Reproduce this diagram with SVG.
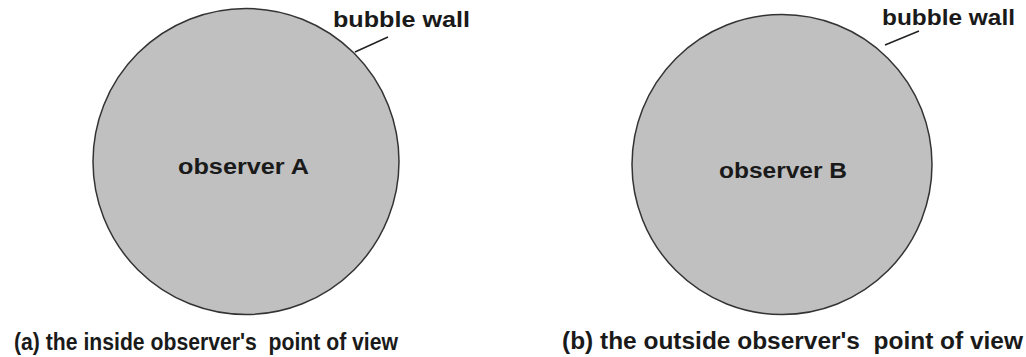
<svg xmlns="http://www.w3.org/2000/svg" width="1026" height="357" viewBox="0 0 1026 357">
<style>
.bubble{fill:#c0c0c0;stroke:#333;stroke-width:1.5}
.t{font-family:"Liberation Sans",Arial,sans-serif;font-weight:bold;fill:#1a1a1a}
.lbl{font-size:22px}
.cap{font-size:23px}
.ptr{stroke:#222;stroke-width:1.5;fill:none}
</style>
<rect width="1026" height="357" fill="#fff"/>
<g id="bubbleA">
<circle class="bubble" cx="246" cy="161.5" r="153"/>
<text class="t lbl" x="178" y="174" textLength="131" lengthAdjust="spacingAndGlyphs">observer A</text>
</g>
<g id="bubbleB">
<circle class="bubble" cx="782" cy="164.5" r="150"/>
<text class="t lbl" x="719" y="178" textLength="128" lengthAdjust="spacingAndGlyphs">observer B</text>
</g>
<g id="wallA">
<text class="t lbl" x="333" y="27" textLength="137" lengthAdjust="spacingAndGlyphs">bubble wall</text>
</g>
<g id="wallB">
<text class="t lbl" x="882" y="25" textLength="133" lengthAdjust="spacingAndGlyphs">bubble wall</text>
</g>
<g id="connectors">
<line class="ptr" x1="355" y1="52" x2="388" y2="37"/>
<line class="ptr" x1="885" y1="45" x2="919" y2="31"/>
</g>
<g id="captions">
<text class="t cap" x="14" y="350" textLength="384" lengthAdjust="spacingAndGlyphs" xml:space="preserve">(a) the inside observer's  point of view</text>
<text class="t cap" x="562" y="349" textLength="461" lengthAdjust="spacingAndGlyphs" xml:space="preserve">(b) the outside observer's  point of view</text>
</g>
</svg>
